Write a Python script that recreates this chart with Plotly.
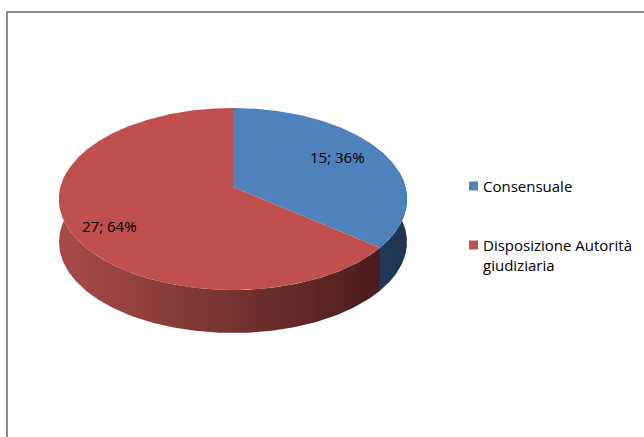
import numpy as np
import plotly.graph_objects as go

# ---- data ----
categories = ["Consensuale", "Disposizione Autorità giudiziaria"]
legend_labels = ["Consensuale", "Disposizione Autorità<br>giudiziaria"]
values = [15, 27]
top_colors = ["#4F81BD", "#C0504D"]
side_scales = [
    [[0, "#22395A"], [1, "#1E334F"]],
    [[0, "#A84B48"], [0.5, "#7A3433"], [1, "#4A1C1C"]],
]

# ---- geometry (pixel space) ----
W, H = 644, 437
cx, cy = 233.0, 187.0
A, B, k = 172.5, 89.4, 0.132
depth = 43.0
FONT = "'Open Sans', Lato, sans-serif"


def proj(theta_deg, f=1.0, dy=0.0):
    t = np.radians(theta_deg)
    u = f * np.sin(t)
    v = -f * np.cos(t)
    den = 1 - k * v
    return cx + A * u / den, cy + B * v / den + dy


total = float(sum(values))
fracs = [v / total for v in values]
starts = np.cumsum([0] + fracs[:-1]) * 360
ends = np.cumsum(fracs) * 360

fig = go.Figure()

# side faces (front visible part), drawn first
for i in range(len(values)):
    a0, a1 = starts[i], ends[i]
    lo = max(a0, 80.0)
    hi = min(a1, 280.0)
    if hi <= lo:
        continue
    th = np.linspace(lo, hi, 200)
    xt, yt = proj(th)
    xb, yb = proj(th[::-1], dy=depth)
    xs = np.concatenate([xt, xb, xt[:1]])
    ys = np.concatenate([yt, yb, yt[:1]])
    fig.add_trace(go.Scatter(
        x=xs, y=ys, mode="lines", line=dict(width=0), fill="toself",
        fillgradient=dict(type="horizontal", colorscale=side_scales[i],
                          start=float(xs.min()), stop=float(xs.max())),
        hoverinfo="skip", showlegend=False))

# top faces
for i in range(len(values)):
    th = np.linspace(starts[i], ends[i], 300)
    xt, yt = proj(th)
    xs = np.concatenate([[cx], xt, [cx]])
    ys = np.concatenate([[cy], yt, [cy]])
    fig.add_trace(go.Scatter(
        x=xs, y=ys, mode="lines", line=dict(width=0), fill="toself",
        fillcolor=top_colors[i], name=categories[i],
        hoverinfo="name", showlegend=False))

# data labels
label_shift = [(-3, -3), (-7, 10)]
for i in range(len(values)):
    mid = (starts[i] + ends[i]) / 2
    lx, ly = proj(mid, f=0.72)
    pct = round(100 * fracs[i])
    fig.add_annotation(x=lx + label_shift[i][0], y=ly + label_shift[i][1],
                       text=f"{values[i]}; {pct}%",
                       showarrow=False, font=dict(family=FONT, size=15, color="#000000"))

# legend (manual)
leg_y = [186, 245]
for i in range(len(values)):
    multi = "<br>" in legend_labels[i]
    fig.add_shape(type="rect", x0=469, x1=478, y0=leg_y[i] - 4.5, y1=leg_y[i] + 4.5,
                  fillcolor=top_colors[i], line=dict(width=0))
    fig.add_annotation(x=481, y=leg_y[i], text=legend_labels[i], showarrow=False,
                       xanchor="left", yanchor="top" if multi else "middle",
                       yshift=12 if multi else 0,
                       align="left", font=dict(family=FONT, size=15, color="#000000"))

# chart border
fig.add_shape(type="rect", x0=7, y0=12, x1=W + 20, y1=H + 20,
              line=dict(color="#8C8C8C", width=2), fillcolor="rgba(0,0,0,0)")

fig.update_layout(
    width=W, height=H, margin=dict(l=0, r=0, t=0, b=0),
    paper_bgcolor="white", plot_bgcolor="white",
    xaxis=dict(range=[0, W], visible=False, fixedrange=True),
    yaxis=dict(range=[H, 0], visible=False, fixedrange=True),
    showlegend=False,
)

fig.write_html("out.html", config={"displayModeBar": False},
               post_script="document.body.style.margin='0';document.body.style.overflow='hidden';")
